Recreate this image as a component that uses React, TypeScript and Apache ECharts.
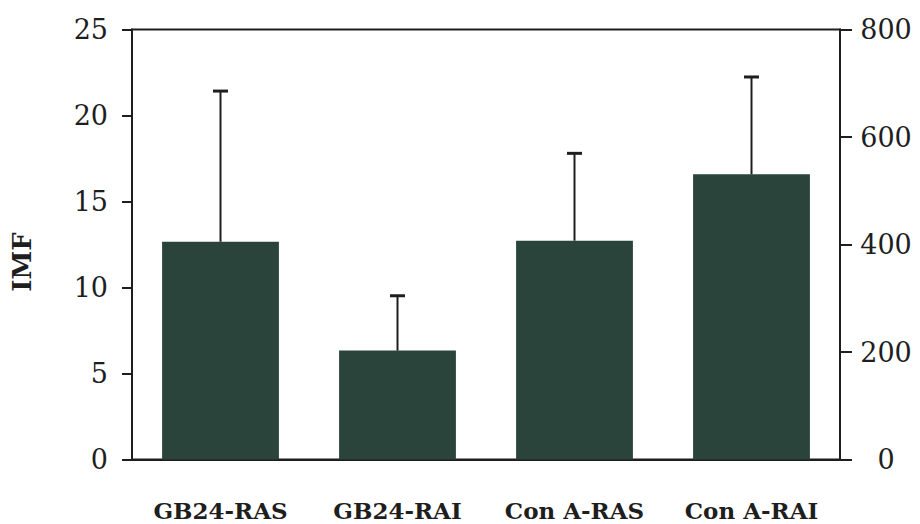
import React, { useEffect, useRef } from "react";
import * as echarts from "echarts";

const categories = ["GB24-RAS", "GB24-RAI", "Con A-RAS", "Con A-RAI"];
const imfMeans = [12.66, 6.33, 12.72, 16.58];
const imfUpper = [21.42, 9.52, 17.8, 22.24];
const leftAxisRange = { min: 0, max: 25, interval: 5 };
const rightAxisRange = { min: 0, max: 800, interval: 200 };
const yAxisTitle = "IMF";

const INK = "#1e1e1e";
const BAR = "#2a433b";
const SERIF = "'DejaVu Serif', 'Liberation Serif', serif";

export default function App() {
  const ref = useRef<HTMLDivElement>(null);

  useEffect(() => {
    document.body.style.margin = "0";
    if (!ref.current) return;
    const chart = echarts.init(ref.current, undefined, { renderer: "svg" });
    const errData = categories.map((_, i) => [i, imfMeans[i], imfUpper[i]]);
    chart.setOption({
      animation: false,
      backgroundColor: "#ffffff",
      grid: {
        left: 132,
        right: 80,
        top: 29.5,
        bottom: 64.5,
        show: true,
        borderColor: INK,
        borderWidth: 2,
        backgroundColor: "transparent",
      },
      graphic: [
        {
          type: "text",
          x: 22,
          y: 262,
          rotation: Math.PI / 2,
          style: {
            text: yAxisTitle,
            fontFamily: SERIF,
            fontWeight: "bold",
            fontSize: 26,
            fill: INK,
            align: "center",
            verticalAlign: "middle",
          },
        },
      ],
      xAxis: {
        type: "category",
        data: categories,
        axisLine: { show: true, lineStyle: { color: INK, width: 2 } },
        axisTick: { show: false },
        axisLabel: {
          color: INK,
          fontFamily: SERIF,
          fontWeight: "bold",
          fontSize: 23,
          margin: 39,
          interval: 0,
        },
        splitLine: { show: false },
      },
      yAxis: [
        {
          type: "value",
          position: "left",
          ...leftAxisRange,
          axisLine: { show: true, lineStyle: { color: INK, width: 2 } },
          axisTick: { show: true, length: 10, inside: false, lineStyle: { color: INK, width: 2 } },
          axisLabel: { color: INK, fontFamily: SERIF, fontSize: 27, margin: 24 },
          splitLine: { show: false },
        },
        {
          type: "value",
          position: "right",
          ...rightAxisRange,
          axisLine: { show: true, lineStyle: { color: INK, width: 2 } },
          axisTick: { show: true, length: 12, inside: false, lineStyle: { color: INK, width: 2 } },
          axisLabel: { color: INK, fontFamily: SERIF, fontSize: 27, margin: 46, align: "center" },
          splitLine: { show: false },
        },
      ],
      series: [
        {
          type: "bar",
          data: imfMeans,
          yAxisIndex: 0,
          barWidth: "66%",
          itemStyle: { color: BAR },
          z: 2,
        },
        {
          type: "custom",
          yAxisIndex: 0,
          data: errData,
          z: 3,
          renderItem: (params: any, api: any) => {
            const base = api.coord([api.value(0), api.value(1)]);
            const top = api.coord([api.value(0), api.value(2)]);
            const half = 7.5;
            return {
              type: "group",
              children: [
                {
                  type: "line",
                  shape: { x1: base[0], y1: base[1], x2: top[0], y2: top[1] },
                  style: { stroke: INK, lineWidth: 2 },
                },
                {
                  type: "line",
                  shape: { x1: top[0] - half, y1: top[1], x2: top[0] + half, y2: top[1] },
                  style: { stroke: INK, lineWidth: 3 },
                },
              ],
            };
          },
        },
      ],
    });
    return () => chart.dispose();
  }, []);

  return <div ref={ref} style={{ width: 920, height: 524 }} />;
}
